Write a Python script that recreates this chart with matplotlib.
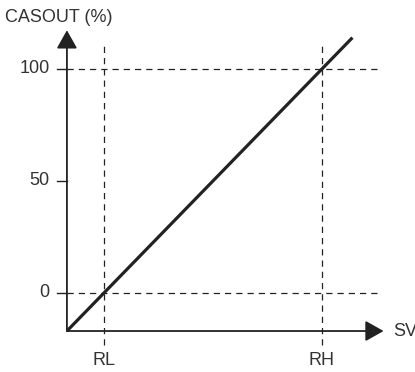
import matplotlib
matplotlib.use("Agg")
import matplotlib.pyplot as plt

# chart values
y_ticks = [0, 50, 100]
y_labels = ["0", "50", "100"]
y_guides = [0, 100]
x_ticks = [0, 100]
x_labels = ["RL", "RH"]
line_x = [-17, 114]
line_y = [-17, 114]
origin = (-17, -17)


def main():
    plt.rcParams["font.family"] = ["Liberation Sans", "DejaVu Sans"]
    fig = plt.figure(figsize=(4.15, 3.72), dpi=100)
    ax = fig.add_axes([0, 0, 1, 1])
    ax.set_xlim(-47.7, 142.7)
    ax.set_ylim(-35.3, 130.8)
    ax.axis("off")

    ink = "#222222"
    dash = dict(color=ink, lw=0.9, ls=(0, (5, 4)))
    for y in y_guides:
        ax.plot([origin[0], 125.7], [y, y], **dash)
    for x in x_ticks:
        ax.plot([x, x], [-23.2, 112], **dash)
    for y in y_ticks:
        ax.plot([-21.4, origin[0]], [y, y], color=ink, lw=1.0)

    arrow = dict(arrowstyle="-|>,head_length=0.8,head_width=0.45",
                 color=ink, lw=1.3, mutation_scale=14,
                 shrinkA=0, shrinkB=0)
    ax.annotate("", xy=(origin[0], 117.3), xytext=origin, arrowprops=arrow)
    ax.annotate("", xy=(128.3, origin[1]), xytext=origin, arrowprops=arrow)

    ax.plot(line_x, line_y, color=ink, lw=2.3, solid_capstyle="butt")

    txt = dict(fontsize=13, color="#333333")
    for y, lab in zip(y_ticks, y_labels):
        ax.text(-25.0, y, lab, ha="right", va="center", **txt)
    for x, lab in zip(x_ticks, x_labels):
        ax.text(x, -30.0, lab, ha="center", va="center", **txt)
    ax.text(-45.4, 123, "CASOUT (%)", ha="left", va="center", **txt)
    ax.text(132.5, origin[1], "SV", ha="left", va="center", **txt)

    fig.savefig("out.png", dpi=100)


if __name__ == "__main__":
    main()
